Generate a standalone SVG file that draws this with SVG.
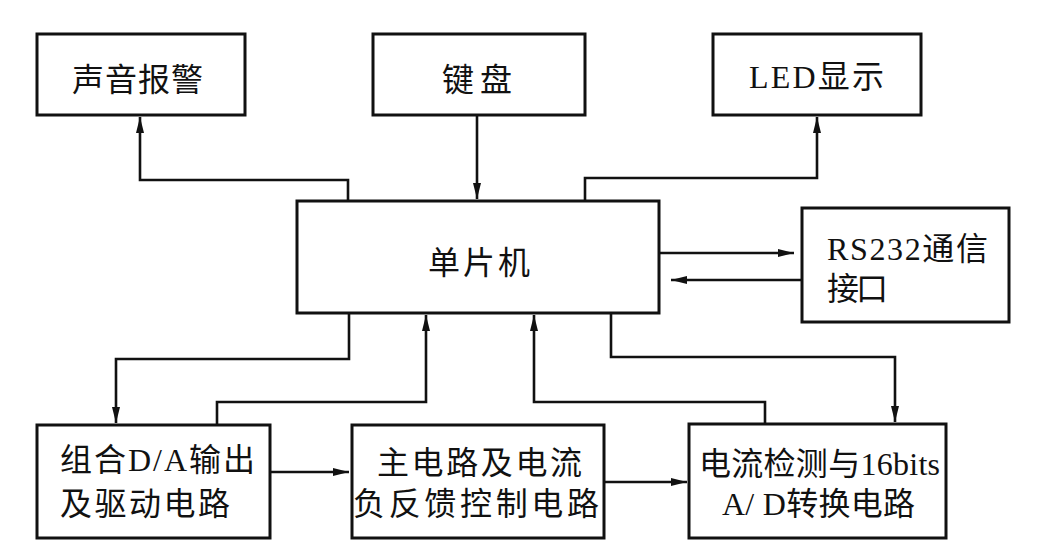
<svg xmlns="http://www.w3.org/2000/svg" width="1054" height="551" viewBox="0 0 1054 551">
<style>
.box{fill:#fff;stroke:#111;stroke-width:3}
.ln{fill:none;stroke:#111;stroke-width:2.6}
text{font-family:"Liberation Serif","Noto Sans CJK SC",serif;font-size:32px;fill:#111}
</style>
<defs>
<marker id="ah" viewBox="0 0 16 10" refX="16" refY="5" markerWidth="16" markerHeight="10" markerUnits="userSpaceOnUse" orient="auto">
<path d="M0,1 L16,5 L0,9 Z" fill="#111"/>
</marker>
</defs>
<rect width="1054" height="551" fill="#fff"/>
<g id="connectors">
<path class="ln" d="M348,201 V180 H140 V117" marker-end="url(#ah)"/>
<path class="ln" d="M477,116 V199" marker-end="url(#ah)"/>
<path class="ln" d="M585,201 V178 H817 V117" marker-end="url(#ah)"/>
<path class="ln" d="M660,253 H794" marker-end="url(#ah)"/>
<path class="ln" d="M802,280 H671" marker-end="url(#ah)"/>
<path class="ln" d="M349,314 V359 H116 V423" marker-end="url(#ah)"/>
<path class="ln" d="M217,425 V402 H426 V315" marker-end="url(#ah)"/>
<path class="ln" d="M765,424 V402 H534 V315" marker-end="url(#ah)"/>
<path class="ln" d="M611,314 V357 H895 V422" marker-end="url(#ah)"/>
<path class="ln" d="M271,472 H349" marker-end="url(#ah)"/>
<path class="ln" d="M605,482 H687" marker-end="url(#ah)"/>
</g>
<g id="n1"><rect class="box" x="37" y="34" width="208" height="81"/><text x="72" y="91" textLength="131" lengthAdjust="spacing">声音报警</text></g>
<g id="n2"><rect class="box" x="373" y="34" width="212" height="81"/><text x="442" y="91" textLength="70" lengthAdjust="spacing">键盘</text></g>
<g id="n3"><rect class="box" x="713" y="34" width="208" height="81"/><text x="749" y="88" textLength="135" lengthAdjust="spacing">LED显示</text></g>
<g id="n4"><rect class="box" x="297" y="201" width="362" height="112"/><text x="428" y="274" textLength="102" lengthAdjust="spacing">单片机</text></g>
<g id="n5"><rect class="box" x="802" y="208" width="207" height="114"/><text x="827" y="260" textLength="161" lengthAdjust="spacing">RS232通信</text><text x="827" y="300" textLength="61" lengthAdjust="spacing">接口</text></g>
<g id="n6"><rect class="box" x="37" y="425" width="233" height="113"/><text x="60" y="471" textLength="195" lengthAdjust="spacing">组合D/A输出</text><text x="60" y="515" textLength="170" lengthAdjust="spacing">及驱动电路</text></g>
<g id="n7"><rect class="box" x="352" y="425" width="252" height="113"/><text x="377" y="474" textLength="205" lengthAdjust="spacing">主电路及电流</text><text x="353" y="515" textLength="246" lengthAdjust="spacing">负反馈控制电路</text></g>
<g id="n8"><rect class="box" x="689" y="424" width="257" height="114"/><text x="699" y="475" textLength="241" lengthAdjust="spacing">电流检测与16bits</text><text x="722" y="515" textLength="193" lengthAdjust="spacing">A/ D转换电路</text></g>
</svg>
